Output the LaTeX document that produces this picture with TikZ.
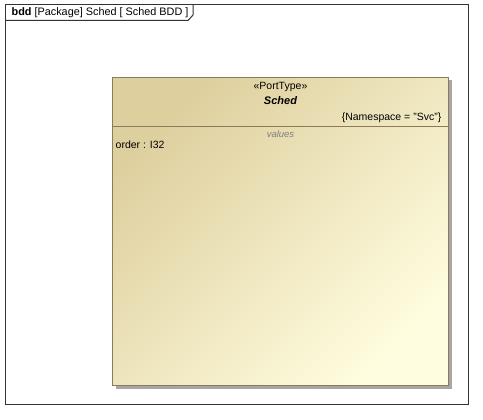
\documentclass[tikz,border=0pt]{standalone}
\usepackage{fontspec}
\setmainfont{Liberation Sans}
\begin{document}
\begin{tikzpicture}[x=1pt,y=-1pt,
  lbl/.style={inner sep=0pt,font=\fontsize{10.5}{12}\selectfont},
  frameline/.style={draw=black!80,line width=1pt}]
\useasboundingbox[fill=white] (0,0) rectangle (483,420);
% frame
\draw[frameline] (5.5,5) rectangle (468.3,404.7);
\draw[frameline] (5.5,20.5) -- (188,20.5) -- (193,15) -- (193,5);
\node[lbl,anchor=west,font=\fontsize{10.85}{13}\selectfont] (title) at (11.5,13) {\textbf{bdd} [Package] Sched [ Sched BDD ]};
% shadow
\fill[black!35] (115.5,80.5) rectangle (452,388.5);
% box
\shade[top color={rgb,255:red,222;green,207;blue,158},bottom color={rgb,255:red,255;green,253;blue,223},shading angle=45] (112.3,77.3) rectangle (448.7,385);
\draw[draw={rgb,255:red,140;green,122;blue,88},line width=1pt] (112.3,77.3) rectangle (448.7,385);
\draw[draw={rgb,255:red,140;green,122;blue,88},line width=0.8pt] (112.3,126.3) -- (448.7,126.3);
\node[lbl] (st) at (280.5,86.5) {«PortType»};
\node[lbl,font=\fontsize{11}{13}\selectfont\bfseries\itshape] (nm) at (280.5,101) {Sched};
\node[lbl,anchor=east] (ns) at (441.5,118) {\{Namespace = "Svc"\}};
\node[lbl,text=black!50,font=\fontsize{9.5}{11}\selectfont\itshape] (vals) at (280.5,134) {values};
\node[lbl,anchor=west] (ord) at (115.5,145) {order : I32};
\end{tikzpicture}
\end{document}
